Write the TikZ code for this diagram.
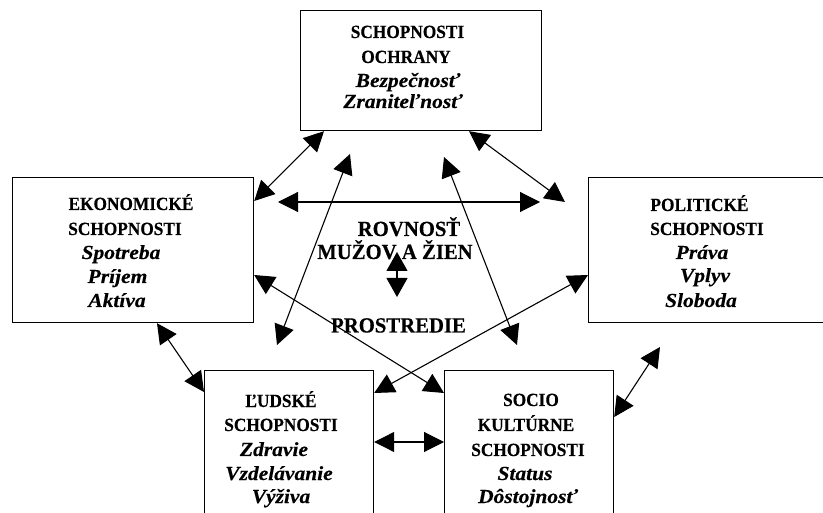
\documentclass[tikz,border=0pt]{standalone}
\usepackage{fontspec}
\setmainfont{Liberation Serif}
\newfontfamily\capf{Liberation Serif}[FakeStretch=0.93, FakeBold=0.3]
\newfontfamily\itf{Liberation Serif}[FakeStretch=1.08, FakeBold=0.3]
\newfontfamily\bigf{Liberation Serif}[FakeStretch=0.96, FakeBold=0.3]
\usetikzlibrary{arrows.meta}
\tikzset{
  boxn/.style={draw, line width=1.2pt, inner sep=0pt, anchor=north west},
  captxt/.style={font={\capf\fontsize{18.6}{20}\selectfont\bfseries}, anchor=base, inner sep=0pt},
  itltxt/.style={font={\itf\fontsize{19.9}{22}\selectfont\bfseries\itshape}, anchor=base, inner sep=0pt},
  bigtxt/.style={font={\bigf\fontsize{21.6}{24}\selectfont\bfseries}, anchor=base, inner sep=0pt},
  lnk/.style={{Triangle[length=20pt,width=20pt]}-{Triangle[length=20pt,width=20pt]}, line width=1.1pt},
  smalllnk/.style={{Triangle[length=19pt,width=21pt]}-{Triangle[length=19pt,width=21pt]}, line width=1.1pt}
}
\begin{document}
\begin{tikzpicture}[x=1pt,y=-1pt]
\useasboundingbox[fill=white] (0,0) rectangle (823,513);
% boxes
\node[boxn, minimum width=241pt, minimum height=120pt] (top) at (300,10) {};
\node[boxn, minimum width=241pt, minimum height=145pt] (lb) at (12,177) {};
\node[boxn, minimum width=260pt, minimum height=145pt] (pol) at (588,177) {};
\node[boxn, minimum width=169pt, minimum height=160pt] (hu) at (204,370) {};
\node[boxn, minimum width=169pt, minimum height=160pt] (sc) at (444,370) {};
% top box text
\node[captxt] (t1) at (407.5,38) {SCHOPNOSTI};
\node[captxt] (t2) at (406,63) {OCHRANY};
\node[itltxt] (t3) at (408,87) {Bezpečnosť};
\node[itltxt] (t4) at (403,108) {Zraniteľnosť};
% left box text
\node[captxt] (l1) at (131,210) {EKONOMICKÉ};
\node[captxt] (l2) at (125,235) {SCHOPNOSTI};
\node[itltxt] (l3) at (121,259) {Spotreba};
\node[itltxt] (l4) at (117.5,283) {Príjem};
\node[itltxt] (l5) at (117,307) {Aktíva};
% political box text
\node[captxt] (p1) at (699.5,211) {POLITICKÉ};
\node[captxt] (p2) at (707,235) {SCHOPNOSTI};
\node[itltxt] (p3) at (702,259) {Práva};
\node[itltxt] (p4) at (705,282) {Vplyv};
\node[itltxt] (p5) at (701,307) {Sloboda};
% human box text
\node[captxt] (h1) at (281,407) {ĽUDSKÉ};
\node[captxt] (h2) at (281,431) {SCHOPNOSTI};
\node[itltxt] (h3) at (274,456) {Zdravie};
\node[itltxt] (h4) at (279,480) {Vzdelávanie};
\node[itltxt] (h5) at (281,503) {Výživa};
% socio box text
\node[captxt] (s1) at (531,406) {SOCIO};
\node[captxt] (s2) at (526,431) {KULTÚRNE};
\node[captxt] (s3) at (528,456) {SCHOPNOSTI};
\node[itltxt] (s4) at (525,480) {Status};
\node[itltxt] (s5) at (528,503) {Dôstojnosť};
% centre text
\node[bigtxt] (c1) at (409,236) {ROVNOSŤ};
\node[bigtxt] (c2) at (395,259) {MUŽOV A ŽIEN};
\node[bigtxt] (c3) at (398.5,332.5) {PROSTREDIE};
% free ends
\coordinate (h2a) at (278,202);
\coordinate (h2b) at (540,202);
\coordinate (f3) at (565,202);
\coordinate (f4a) at (350,154);
\coordinate (f4b) at (277,345);
\coordinate (f5a) at (444,157);
\coordinate (f5b) at (517,345);
\coordinate (f10) at (660,347);
\coordinate (ca) at (397,252);
\coordinate (cb) at (397,297);
% connectors
\draw[lnk] ([xshift=24pt]top.south west) -- ([yshift=-24pt]lb.north east);
\draw[lnk] (h2a) -- (h2b);
\draw[lnk] ([xshift=169pt]top.south west) -- (f3);
\draw[lnk] (f4a) -- (f4b);
\draw[lnk] (f5a) -- (f5b);
\draw[lnk] ([yshift=-98pt]lb.north east) -- ([yshift=-23pt]sc.north west);
\draw[lnk] ([yshift=-23pt]hu.north east) -- ([yshift=-98pt]pol.north west);
\draw[lnk] ([xshift=145pt]lb.south west) -- ([yshift=-22pt]hu.north west);
\draw[lnk] ([yshift=-72pt]hu.north east) -- ([yshift=-72pt]sc.north west);
\draw[lnk] ([yshift=-47pt]sc.north east) -- (f10);
\draw[smalllnk] (ca) -- (cb);
\end{tikzpicture}
\end{document}
